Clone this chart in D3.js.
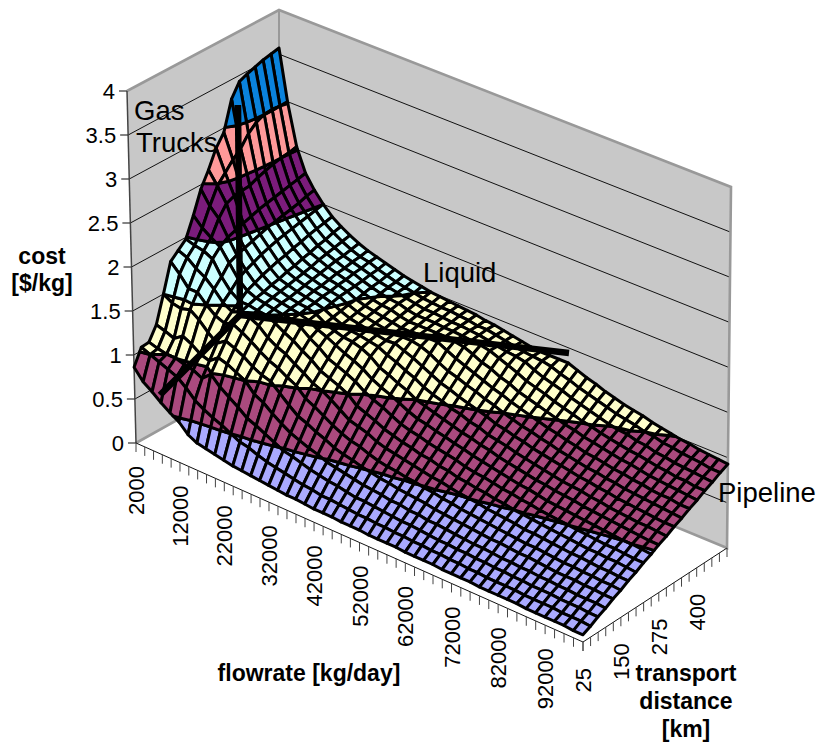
<!DOCTYPE html>
<html><head><meta charset="utf-8">
<script src="https://cdn.jsdelivr.net/npm/d3@7/dist/d3.min.js"></script>
<style>html,body{margin:0;padding:0;background:#fff}svg{display:block}text{font-family:"Liberation Sans",Arial,sans-serif;fill:#000}</style>
</head><body><svg id="chart" width="819" height="742"></svg>
<script>
// ---- categories and tick labels
const flowrates=[2000,4000,6000,8000,10000,12000,14000,16000,18000,20000,22000,24000,26000,28000,30000,32000,34000,36000,38000,40000,42000,44000,46000,48000,50000,52000,54000,56000,58000,60000,62000,64000,66000,68000,70000,72000,74000,76000,78000,80000,82000,84000,86000,88000,90000,92000,94000,96000,98000,100000];
const distances=[25,50,75,100,125,150,175,200,225,250,275,300,325,350,375,400,425,450,475,500];
const flowLabels=[2000,12000,22000,32000,42000,52000,62000,72000,82000,92000];
const distanceLabels=[25,150,275,400];
const costTicks=[0,0.5,1,1.5,2,2.5,3,3.5,4];
const bandLevels=[0,0.5,1,1.5,2,2.5,3,4];
const bandColors=["#aaaaff","#aa4a7e","#ffffcc","#ccffff","#7b1c7b","#ff9999","#0a82dc"];
// ---- cost [$/kg] at each flowrate, one value per transport distance
const c2000=[.86,1.04,1.05,1.2,1.5,1.82,1.9,1.98,2.2,2.45,2.62,2.82,2.95,3.28,3.43,3.47,3.5,3.53,3.55,3.57];
const c4000=[.74,1.0,1.02,1.17,1.44,1.72,1.86,1.95,2.1,2.3,2.48,2.58,2.68,2.76,2.88,2.96,3.0,3.01,3.0,2.98];
const c6000=[.67,.96,1.0,1.13,1.42,1.6,1.78,1.93,2.03,2.2,2.32,2.36,2.37,2.38,2.42,2.45,2.48,2.5,2.51,2.53];
const c8000=[.59,.92,1.0,1.2,1.45,1.6,1.72,1.88,1.97,2.03,2.06,2.09,2.12,2.15,2.17,2.19,2.21,2.23,2.25,2.27];
const c10000=[.52,.88,.97,1.15,1.38,1.5,1.63,1.72,1.83,1.87,1.9,1.93,1.96,1.99,2.01,2.03,2.05,2.07,2.1,2.12];
const c12000=[.46,.80,.95,1.08,1.28,1.42,1.52,1.6,1.69,1.74,1.78,1.82,1.85,1.88,1.9,1.92,1.94,1.96,1.98,2.0];
const c14000=[.36,.70,.90,1.05,1.2,1.38,1.46,1.53,1.6,1.64,1.68,1.71,1.74,1.76,1.79,1.81,1.84,1.86,1.88,1.90];
const c16000=[.31,.64,.99,1.13,1.27,1.41,1.50,1.53,1.56,1.58,1.61,1.63,1.66,1.68,1.71,1.73,1.76,1.78,1.81,1.83];
const c18000=[.29,.59,.89,1.10,1.23,1.36,1.48,1.51,1.54,1.56,1.58,1.60,1.62,1.64,1.66,1.69,1.71,1.73,1.75,1.77];
const c20000=[.27,.55,.82,1.05,1.18,1.30,1.43,1.50,1.52,1.54,1.55,1.57,1.59,1.61,1.63,1.65,1.67,1.68,1.70,1.72];
const c22000=[.25,.50,.75,1.0,1.11,1.23,1.34,1.45,1.50,1.52,1.53,1.55,1.57,1.58,1.60,1.62,1.63,1.65,1.66,1.68];
const c24000=[.23,.45,.67,.89,1.06,1.17,1.28,1.39,1.49,1.50,1.52,1.53,1.55,1.56,1.58,1.59,1.61,1.62,1.64,1.65];
const c26000=[.22,.43,.63,.84,1.03,1.13,1.24,1.34,1.44,1.47,1.49,1.50,1.52,1.54,1.55,1.56,1.57,1.59,1.60,1.62];
const c28000=[.21,.39,.58,.76,.94,1.07,1.17,1.27,1.36,1.41,1.43,1.45,1.47,1.49,1.50,1.52,1.54,1.55,1.57,1.59];
const c30000=[.20,.36,.53,.69,.85,1.02,1.11,1.21,1.30,1.37,1.39,1.41,1.43,1.45,1.47,1.49,1.51,1.53,1.54,1.56];
const c32000=[.19,.34,.48,.63,.77,.92,1.04,1.13,1.22,1.32,1.36,1.38,1.41,1.43,1.45,1.47,1.49,1.51,1.52,1.54];
const c34000=[.18,.32,.46,.59,.73,.87,1.0,1.09,1.18,1.27,1.35,1.37,1.39,1.41,1.43,1.46,1.48,1.49,1.50,1.52];
const c36000=[.17,.30,.43,.55,.68,.81,.94,1.05,1.14,1.23,1.32,1.35,1.37,1.39,1.41,1.43,1.45,1.47,1.48,1.50];
const c38000=[.17,.28,.40,.52,.64,.75,.87,1.0,1.09,1.18,1.27,1.33,1.35,1.37,1.39,1.41,1.43,1.45,1.47,1.49];
const c40000=[.16,.27,.38,.48,.59,.70,.80,.91,1.02,1.11,1.19,1.28,1.36,1.38,1.39,1.41,1.43,1.45,1.46,1.48];
const c42000=[.15,.25,.36,.46,.56,.66,.77,.87,.97,1.06,1.15,1.24,1.32,1.38,1.40,1.41,1.43,1.44,1.46,1.47];
const c44000=[.15,.25,.35,.44,.54,.64,.74,.83,.93,1.02,1.10,1.19,1.28,1.36,1.40,1.41,1.42,1.43,1.45,1.46];
const c46000=[.15,.24,.33,.42,.51,.60,.69,.78,.88,.97,1.06,1.15,1.23,1.32,1.40,1.41,1.42,1.43,1.44,1.45];
const c48000=[.14,.23,.31,.40,.49,.57,.66,.75,.83,.92,1.0,1.09,1.18,1.26,1.35,1.40,1.41,1.42,1.42,1.43];
const c50000=[.14,.22,.31,.39,.47,.55,.64,.72,.80,.88,.97,1.05,1.13,1.21,1.30,1.38,1.40,1.41,1.42,1.42];
const c52000=[.14,.22,.30,.38,.46,.54,.62,.70,.78,.86,.94,1.02,1.10,1.18,1.26,1.34,1.39,1.39,1.40,1.40];
const c54000=[.13,.21,.29,.36,.44,.52,.60,.67,.75,.83,.91,.98,1.06,1.14,1.22,1.29,1.37,1.37,1.38,1.38];
const c56000=[.13,.21,.28,.36,.43,.51,.58,.66,.73,.81,.88,.96,1.03,1.11,1.18,1.26,1.33,1.35,1.36,1.36];
const c58000=[.13,.20,.27,.34,.42,.49,.56,.63,.71,.78,.85,.92,1.0,1.07,1.14,1.21,1.29,1.34,1.34,1.34];
const c60000=[.13,.20,.27,.34,.41,.48,.55,.62,.69,.76,.83,.90,.97,1.04,1.11,1.18,1.25,1.32,1.33,1.33];
const c62000=[.12,.19,.26,.32,.39,.46,.53,.59,.66,.73,.80,.86,.93,1.0,1.07,1.13,1.20,1.27,1.32,1.33];
const c64000=[.12,.19,.25,.32,.38,.45,.51,.58,.64,.71,.78,.84,.91,.97,1.04,1.10,1.17,1.23,1.30,1.33];
const c66000=[.12,.18,.24,.31,.37,.43,.50,.56,.63,.69,.75,.82,.88,.94,1.01,1.07,1.14,1.20,1.26,1.33];
const c68000=[.12,.18,.24,.30,.36,.42,.49,.55,.61,.67,.73,.79,.86,.92,.98,1.04,1.10,1.17,1.23,1.29];
const c70000=[.11,.17,.23,.29,.35,.41,.47,.53,.59,.65,.71,.77,.83,.89,.95,1.01,1.07,1.13,1.19,1.25];
const c72000=[.11,.17,.23,.28,.34,.40,.46,.52,.58,.63,.69,.75,.81,.87,.93,.98,1.04,1.10,1.16,1.22];
const c74000=[.11,.16,.22,.28,.33,.39,.45,.50,.56,.62,.67,.73,.79,.84,.90,.96,1.01,1.07,1.13,1.18];
const c76000=[.11,.16,.22,.27,.33,.38,.44,.49,.55,.60,.66,.71,.77,.82,.88,.93,.99,1.04,1.10,1.15];
const c78000=[.10,.15,.21,.26,.32,.37,.42,.48,.53,.58,.64,.69,.75,.80,.85,.91,.96,1.01,1.07,1.12];
const c80000=[.10,.15,.21,.26,.31,.36,.42,.47,.52,.57,.63,.68,.73,.78,.84,.89,.94,.99,1.05,1.10];
const c82000=[.10,.15,.20,.25,.31,.36,.41,.46,.51,.56,.62,.67,.72,.77,.82,.87,.92,.98,1.03,1.08];
const c84000=[.10,.15,.20,.25,.30,.35,.40,.45,.50,.55,.60,.65,.70,.75,.80,.85,.90,.95,1.0,1.05];
const c86000=[.10,.14,.19,.24,.29,.34,.39,.44,.49,.54,.59,.64,.69,.74,.79,.84,.89,.94,.99,1.03];
const c88000=[.09,.14,.19,.24,.28,.33,.38,.43,.48,.53,.58,.62,.67,.72,.77,.82,.87,.91,.96,1.01];
const c90000=[.09,.14,.19,.23,.28,.33,.38,.42,.47,.52,.57,.61,.66,.71,.76,.80,.85,.90,.95,.99];
const c92000=[.09,.14,.18,.23,.28,.32,.37,.42,.46,.51,.56,.60,.65,.70,.74,.79,.84,.88,.93,.98];
const c94000=[.09,.13,.18,.22,.27,.32,.36,.41,.46,.50,.55,.59,.64,.69,.73,.78,.82,.87,.92,.96];
const c96000=[.09,.13,.18,.22,.27,.31,.36,.41,.45,.50,.54,.59,.63,.68,.73,.77,.82,.86,.91,.95];
const c98000=[.08,.13,.17,.22,.26,.31,.35,.40,.44,.49,.53,.58,.62,.67,.71,.76,.80,.85,.89,.94];
const c100000=[.08,.12,.17,.21,.26,.30,.35,.39,.44,.48,.53,.57,.62,.66,.71,.75,.80,.84,.89,.93];
const costByFlow=[c2000,c4000,c6000,c8000,c10000,c12000,c14000,c16000,c18000,c20000,c22000,c24000,c26000,c28000,c30000,c32000,c34000,c36000,c38000,c40000,c42000,c44000,c46000,c48000,c50000,c52000,c54000,c56000,c58000,c60000,c62000,c64000,c66000,c68000,c70000,c72000,c74000,c76000,c78000,c80000,c82000,c84000,c86000,c88000,c90000,c92000,c94000,c96000,c98000,c100000];

// ---- scales: category -> unit cube coordinate
const uScale=d3.scalePoint().domain(flowrates).range([0,1]);
const vScale=d3.scalePoint().domain(distances).range([0,1]);
const tScale=d3.scaleLinear().domain([0,4]).range([0,1]);

// ---- perspective box of the 3D plot: floor corners and height offsets at them
const A=[136,443],B=[583,642],C=[727,548],D=[279,363];
const liftA=[-9,-352],liftD=[0,-353],liftC=[4,-361],liftB=[-5,-360];
const flowForeshorten=0.04;
function project(u,v,t){
  const w=(1-flowForeshorten)*u/(1-flowForeshorten*u);
  const mix=(a,b,c,d,k)=>(1-w)*(1-v)*a[k]+w*(1-v)*b[k]+w*v*c[k]+(1-w)*v*d[k];
  return [0,1].map(k=>mix(A,B,C,D,k)+t*mix(liftA,liftB,liftC,liftD,k));
}
const pos=(f,d,c)=>project(uScale(f),vScale(d),tScale(c));
const line=pts=>"M"+pts.map(q=>q[0].toFixed(2)+","+q[1].toFixed(2)).join("L");
const poly=pts=>line(pts)+"Z";

const svg=d3.select("#chart");
const f0=flowrates[0],fN=flowrates[flowrates.length-1],d0=distances[0],dN=distances[distances.length-1];

// ---- walls
const walls=svg.append("g");
const cMax=costTicks[costTicks.length-1];
walls.selectAll("path.wall").data([[[f0,d0],[f0,dN]],[[f0,dN],[fN,dN]]]).join("path").attr("class","wall")
  .attr("d",([a,b])=>poly([pos(a[0],a[1],0),pos(b[0],b[1],0),pos(b[0],b[1],cMax),pos(a[0],a[1],cMax)]))
  .attr("fill","#c8c8c8");
// gridlines on the walls
costTicks.slice(1,-1).forEach(c=>{
  walls.append("path").attr("d",line([pos(f0,d0,c),pos(f0,dN,c),pos(fN,dN,c)]))
    .attr("fill","none").attr("stroke","#111").attr("stroke-width",1);
});
// wall rims
walls.append("path").attr("d",line([pos(f0,d0,cMax),pos(f0,dN,cMax),pos(fN,dN,cMax),pos(fN,dN,0),pos(f0,dN,0),pos(f0,d0,0)]))
  .attr("fill","none").attr("stroke","#999").attr("stroke-width",2.6);
walls.append("path").attr("d",line([pos(f0,dN,0),pos(f0,dN,cMax)]))
  .attr("fill","none").attr("stroke","#999").attr("stroke-width",2);

// ---- axes
const axes=svg.append("g");
axes.append("path").attr("d",line([pos(f0,d0,0),pos(f0,d0,cMax)])).attr("fill","none").attr("stroke","#444").attr("stroke-width",1.5);
axes.append("path").attr("d",line([pos(f0,d0,0),pos(fN,d0,0),pos(fN,dN,0)])).attr("fill","none").attr("stroke","#111").attr("stroke-width",1);
axes.selectAll("path.yt").data(costTicks).join("path").attr("class","yt")
  .attr("d",c=>{const q=pos(f0,d0,c);return line([[q[0]-8,q[1]],q]);}).attr("stroke","#333").attr("stroke-width",1.2);
axes.selectAll("text.yl").data(costTicks).join("text").attr("class","yl")
  .attr("x",c=>pos(f0,d0,c)[0]-12).attr("y",c=>pos(f0,d0,c)[1]+8)
  .attr("text-anchor","end").attr("font-size",22).text(c=>c);
axes.selectAll("path.xt").data(flowrates).join("path").attr("class","xt")
  .attr("d",f=>{const q=pos(f,d0,0);return line([q,[q[0],q[1]+9]]);}).attr("stroke","#444").attr("stroke-width",1);
axes.selectAll("path.zt").data(distances).join("path").attr("class","zt")
  .attr("d",d=>{const q=pos(fN,d,0);return line([q,[q[0],q[1]+9]]);}).attr("stroke","#444").attr("stroke-width",1);
axes.selectAll("text.xl").data(flowLabels).join("text").attr("class","xl")
  .attr("transform",f=>{const q=pos(f,d0,0);return `translate(${q[0]+8},${q[1]+23}) rotate(-90)`;})
  .attr("text-anchor","end").attr("font-size",22).text(f=>f);
axes.selectAll("text.dl").data(distanceLabels).join("text").attr("class","dl")
  .attr("transform",d=>{const q=pos(fN,d,0);return `translate(${q[0]+8},${q[1]+26}) rotate(-90)`;})
  .attr("text-anchor","end").attr("font-size",22).text(d=>d);

// ---- surface, painted from the far corner to the near corner
function clipBand(pts,level,keepAbove){
  const out=[];
  const inside=q=>keepAbove?q.c>=level:q.c<=level;
  pts.forEach((q,k)=>{
    const n=pts[(k+1)%pts.length];
    if(inside(q))out.push(q);
    if(inside(q)!==inside(n)){
      const s=(level-q.c)/(n.c-q.c);
      out.push({u:q.u+s*(n.u-q.u),v:q.v+s*(n.v-q.v),c:level});
    }
  });
  return out;
}
const surface=svg.append("g");
const cells=[];
for(let j=distances.length-2;j>=0;j--){
  for(let i=0;i<flowrates.length-1;i++){
    const corner=(a,b)=>({u:uScale(flowrates[a]),v:vScale(distances[b]),c:costByFlow[a][b]});
    const quad=[corner(i,j),corner(i+1,j),corner(i+1,j+1),corner(i,j+1)];
    bandColors.forEach((col,k)=>{
      let part=clipBand(quad,bandLevels[k],true);
      if(part.length)part=clipBand(part,bandLevels[k+1],false);
      if(part.length>2)cells.push({col,pts:part.map(q=>project(q.u,q.v,tScale(q.c)))});
    });
  }
}
surface.selectAll("path").data(cells).join("path")
  .attr("d",d=>poly(d.pts)).attr("fill",d=>d.col)
  .attr("stroke","#000").attr("stroke-width",3).attr("stroke-linejoin","round");

// ---- hand-drawn region dividers and labels
const dividers=[[[238,105],[240,318]],[[160,395],[240,315],[569,353]]];
const notes=svg.append("g");
dividers.forEach(pts=>notes.append("path").attr("d",line(pts)).attr("fill","none").attr("stroke","#000").attr("stroke-width",6.5));
const regionLabels=[["Gas",134,120],["Trucks",136,152],["Liquid",423,282],["Pipeline",718,502]];
notes.selectAll("text.r").data(regionLabels).join("text").attr("class","r")
  .attr("x",d=>d[1]).attr("y",d=>d[2]).attr("font-size",27.5).text(d=>d[0]);
const axisTitles=[["cost",42,264],["[$/kg]",42,291],["flowrate [kg/day]",309,681],["transport",686,681],["distance",686,709],["[km]",686,737]];
notes.selectAll("text.t").data(axisTitles).join("text").attr("class","t")
  .attr("x",d=>d[1]).attr("y",d=>d[2]).attr("text-anchor","middle")
  .attr("font-size",23).attr("font-weight","bold").text(d=>d[0]);
</script></body></html>
